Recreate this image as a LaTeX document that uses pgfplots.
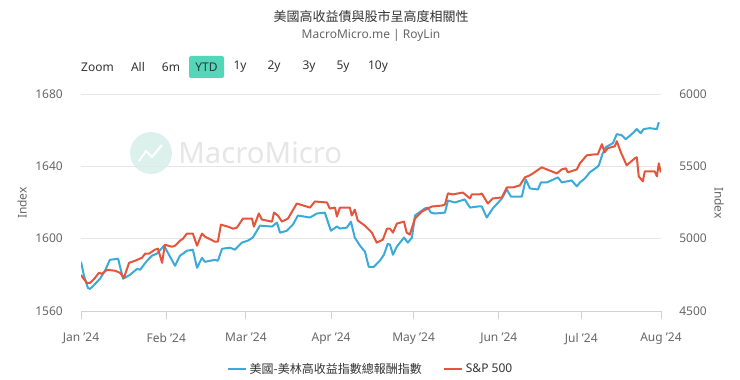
\documentclass[border=0pt]{standalone}
\usepackage{fontspec}
\setmainfont{Noto Sans}
\newfontfamily\cjk{Noto Sans CJK TC}
\usepackage{pgfplots}
\pgfplotsset{compat=1.18}
\definecolor{hyblue}{HTML}{3AAAD8}
\definecolor{spred}{HTML}{E4553B}
\definecolor{tickgray}{HTML}{666666}
\definecolor{titlegray}{HTML}{333333}
\definecolor{gridgray}{HTML}{E6E6E6}
\definecolor{axisgray}{HTML}{D0D0D0}
\definecolor{ytdteal}{HTML}{52D8B8}
\definecolor{wmgray}{HTML}{E6E6E6}
\definecolor{wmteal}{HTML}{DDF1EC}

\pgfplotstableread{
day val
0 1587.2
1.1 1579.4
2.5 1572.8
3.3 1572.2
5.1 1575.0
6.9 1577.8
8.7 1582.2
10.5 1588.3
13.5 1588.9
15.3 1577.8
17.8 1580.0
20.4 1583.3
21.5 1582.8
24.0 1587.8
25.8 1590.6
27.6 1591.7
30.2 1596.1
34.2 1585.0
36.0 1590.6
37.1 1591.7
38.5 1593.3
40.7 1593.9
42.2 1583.9
44.0 1589.4
45.1 1587.2
48.7 1588.3
49.8 1587.8
51.3 1594.4
54.2 1595.0
56.0 1593.9
58.5 1597.8
60.7 1598.9
62.5 1600.6
65.1 1607.2
69.5 1606.7
71.3 1608.9
72.4 1603.3
74.9 1604.4
77.1 1607.8
78.9 1612.8
83.3 1611.7
85.8 1613.9
88.7 1614.4
90.9 1604.4
93.1 1606.7
94.2 1605.6
96.7 1606.1
98.2 1609.4
99.6 1600.6
101.5 1596.1
103.3 1592.8
104.7 1584.4
106.5 1584.4
108.7 1587.8
110.2 1591.1
111.6 1597.2
112.4 1596.7
113.5 1591.1
114.9 1595.6
117.5 1600.6
118.9 1597.8
120.4 1600.6
121.5 1612.8
125.1 1616.7
126.2 1617.2
127.3 1614.4
128.7 1613.9
132.4 1614.4
133.5 1621.1
136.0 1620.0
139.6 1621.7
141.5 1617.2
144.4 1617.8
145.8 1617.8
147.6 1611.7
149.8 1616.7
153.1 1622.2
154.9 1627.2
156.4 1623.3
160.4 1623.3
161.8 1632.8
163.3 1627.8
166.2 1627.2
167.3 1631.1
169.5 1631.1
173.5 1633.9
174.9 1631.1
178.5 1632.2
180.4 1628.9
181.5 1631.1
183.3 1633.3
185.1 1636.7
187.6 1639.4
188.4 1640.6
189.8 1647.2
190.9 1650.6
193.5 1652.8
194.9 1657.8
196.7 1657.2
198.2 1655.0
200.7 1658.3
202.2 1660.6
203.6 1658.3
204.7 1660.6
206.9 1661.1
209.5 1660.6
210.2 1664.4
}\hytable

\pgfplotstableread{
day val
0 4750
0.7 4729
2.2 4694
3.3 4694
5.1 4729
6.5 4764
7.6 4757
9.5 4785
12.4 4778
14.2 4764
15.6 4729
17.5 4833
19.6 4847
22.2 4868
23.3 4896
24.7 4896
26.9 4924
28.0 4931
29.5 4833
30.5 4958
33.1 4944
34.2 4951
36.0 4986
37.1 5000
38.5 5035
40.7 5035
42.2 4951
44.0 5035
45.1 5014
48.7 4979
49.8 4979
50.9 5097
53.5 5083
55.3 5069
56.7 5076
58.9 5139
62.2 5139
62.9 5083
64.7 5174
65.8 5132
69.5 5118
70.2 5181
71.6 5160
73.1 5118
75.3 5139
78.5 5243
83.3 5215
85.1 5257
89.5 5250
90.5 5208
92.4 5215
93.1 5153
94.2 5215
97.8 5215
98.5 5160
99.6 5201
100.7 5125
103.3 5090
105.8 5042
107.6 4972
109.8 4993
111.3 5069
112.4 5069
113.5 5042
114.9 5104
117.5 5118
118.5 5042
119.6 5028
121.5 5139
124.0 5188
126.9 5215
127.6 5222
131.3 5229
132.4 5236
133.5 5313
135.3 5306
138.9 5319
141.5 5278
142.2 5306
145.1 5306
145.8 5313
148.0 5243
149.8 5278
153.1 5285
154.9 5354
157.1 5354
159.6 5368
161.5 5424
163.3 5438
164.4 5451
167.6 5493
173.1 5451
174.9 5479
176.4 5486
177.1 5458
180.4 5479
181.5 5521
184.0 5576
186.9 5583
188.0 5583
189.5 5653
190.5 5597
191.6 5625
194.2 5639
194.9 5674
196.4 5597
198.5 5507
201.5 5556
202.2 5563
202.9 5431
204.4 5396
205.1 5465
208.7 5465
209.5 5431
210.2 5521
210.9 5458
}\sptable

\begin{document}
\begin{tikzpicture}[x=0.75pt,y=0.75pt]
\path[use as bounding box] (0,0) rectangle (740,379);
% title
\node[font=\cjk\fontsize{9.75}{11}\selectfont, text=titlegray] at (371,362) {美國高收益債與股市呈高度相關性};
\node[font=\fontsize{9}{11}\selectfont, text=tickgray] at (371,344) {MacroMicro.me | RoyLin};
% range selector
\fill[ytdteal, rounded corners=1.5pt] (189,301) rectangle (224,323);
\foreach \x/\t in {97.5/Zoom,138/All,171/6m,206.5/YTD,240/1y,274/2y,309/3y,343/5y,378/10y}
  \node[font=\fontsize{9}{11}\selectfont, text=titlegray] at (\x,312) {\t};
% watermark
\fill[wmteal] (151,226) circle (21);
\draw[white, line width=1.5pt, line join=round] (139,218) -- (146,228) -- (152,222) -- (162,234);
\node[anchor=west, font=\fontsize{22}{24}\selectfont, text=wmgray, inner sep=0pt] at (178,226) {MacroMicro};
% axis titles
\node[rotate=90, font=\fontsize{9}{11}\selectfont, text=tickgray] at (22,176) {Index};
\node[rotate=-90, font=\fontsize{9}{11}\selectfont, text=tickgray] at (719,176) {Index};

\begin{axis}[
  scale only axis, width=435pt, height=162.75pt,
  at={(60.75pt,51pt)}, anchor=south west,
  xmin=0, xmax=211, ymin=1560, ymax=1680,
  xtick={0,31,60,91,121,152,182,211},
  xticklabels={Jan '24,Feb '24,Mar '24,Apr '24,May '24,Jun '24,Jul '24,Aug '24},
  ytick={1560,1600,1640,1680},
  yticklabels={1560,1600,1640,1680},
  axis x line*=bottom, axis y line*=left,
  x axis line style={draw=axisgray, line width=0.75pt, -},
  y axis line style={draw=none},
  ymajorgrids, grid style={gridgray, line width=0.75pt},
  xtick style={draw=axisgray, line width=0.75pt},
  ytick style={draw=none},
  x tick style={/pgfplots/major tick length=6pt},
  xtick align=outside,
  ticklabel style={font=\fontsize{9}{11}\selectfont, text=tickgray, inner sep=0pt},
  yticklabel style={anchor=east, xshift=-13.5pt},
  xticklabel style={anchor=north, yshift=-12pt},
  legend style={at={(0.5,-0.267)}, anchor=center, draw=none, fill=none,
    legend columns=2, font=\fontsize{9}{11}\selectfont, text=titlegray,
    /tikz/every even column/.append style={column sep=14pt}},
  legend image code/.code={\draw[#1, line width=1.5pt] (0pt,0pt) -- (13.5pt,0pt);},
]
\addplot[hyblue, line width=1.5pt, line join=round, no markers] table[x=day, y=val] {\hytable};
\addlegendentry{\cjk 美國-美林高收益指數總報酬指數}
\addlegendimage{spred, line width=1.5pt}
\addlegendentry{S\&P 500}
\end{axis}

\begin{axis}[
  scale only axis, width=435pt, height=162.75pt,
  at={(60.75pt,51pt)}, anchor=south west,
  xmin=0, xmax=211, ymin=4500, ymax=6000,
  ytick={4500,5000,5500,6000},
  yticklabels={4500,5000,5500,6000},
  axis x line=none, axis y line*=right,
  y axis line style={draw=none},
  ytick style={draw=none},
  ticklabel style={font=\fontsize{9}{11}\selectfont, text=tickgray, inner sep=0pt},
  yticklabel style={anchor=west, xshift=13.5pt},
]
\addplot[spred, line width=1.5pt, line join=round, no markers] table[x=day, y=val] {\sptable};
\end{axis}
\end{tikzpicture}
\end{document}
